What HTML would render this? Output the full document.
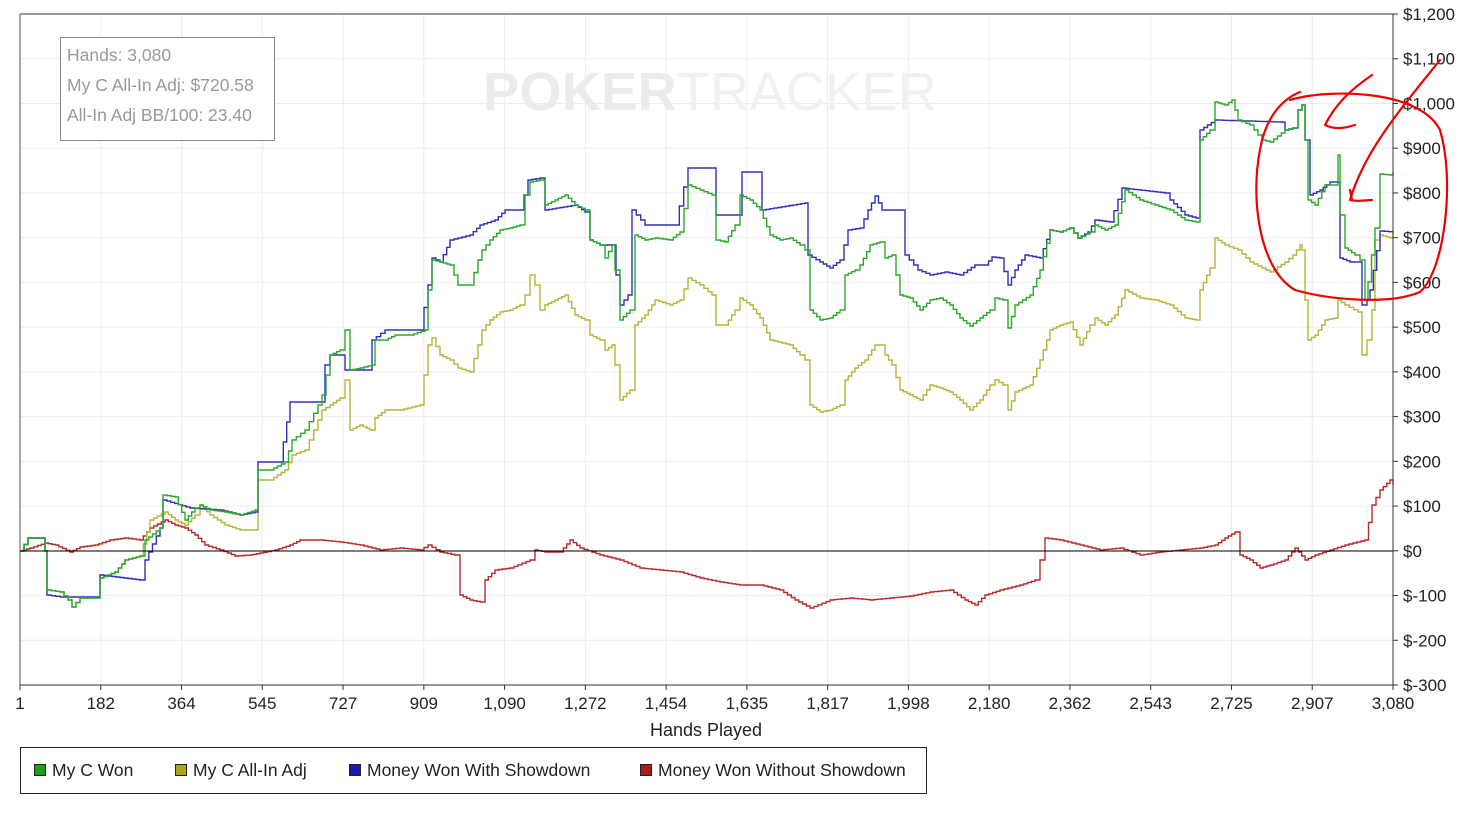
<!DOCTYPE html>
<html><head><meta charset="utf-8"><style>
body{margin:0;background:#fff;width:1480px;height:817px;overflow:hidden;font-family:"Liberation Sans",sans-serif}
</style></head><body>
<svg width="1480" height="817" viewBox="0 0 1480 817" xmlns="http://www.w3.org/2000/svg" font-family="Liberation Sans, sans-serif">
<rect width="1480" height="817" fill="#fff"/>
<g stroke="#ececec" stroke-width="1" id="grid"></g>
<text x="483" y="110" font-size="54" font-weight="bold" fill="#ebebeb" textLength="454" lengthAdjust="spacingAndGlyphs">POKER<tspan font-weight="normal" fill="#f0f0f0">TRACKER</tspan></text>
<g id="lines" fill="none" stroke-width="1.4"></g>
<line x1="20" y1="551" x2="1393" y2="551" stroke="#000" stroke-width="1"/>
<line x1="20" y1="14" x2="20" y2="685" stroke="#555"/>
<line x1="1393" y1="14" x2="1393" y2="685" stroke="#333"/>
<line x1="20" y1="685" x2="1393" y2="685" stroke="#333"/>
<line x1="20" y1="14" x2="1393" y2="14" stroke="#333"/>
<g id="ticks" font-size="17" fill="#222"></g>
<text x="706" y="736" font-size="18" text-anchor="middle" fill="#222">Hands Played</text>
<rect x="60.5" y="37.5" width="214" height="103" fill="#fff" stroke="#888"/>
<text font-size="17.5" fill="#999"><tspan x="67" y="61">Hands: 3,080</tspan><tspan x="67" y="91">My C All-In Adj: $720.58</tspan><tspan x="67" y="121">All-In Adj BB/100: 23.40</tspan></text>
<rect x="20.5" y="747.5" width="906" height="46" fill="#fff" stroke="#222"/>
<g font-size="17.5" fill="#222">
<rect x="34.5" y="764.5" width="11" height="11" fill="#1aa11a" stroke="#222"/><text x="52" y="776">My C Won</text>
<rect x="175.5" y="764.5" width="11" height="11" fill="#a8a81a" stroke="#222"/><text x="193" y="776">My C All-In Adj</text>
<rect x="349.5" y="764.5" width="11" height="11" fill="#1a1aa8" stroke="#222"/><text x="367" y="776">Money Won With Showdown</text>
<rect x="640.5" y="764.5" width="11" height="11" fill="#b01a1a" stroke="#222"/><text x="658" y="776">Money Won Without Showdown</text>
</g>
<g fill="none" stroke="#e00" stroke-width="2.2" stroke-linecap="round">
<path d="M1290,100 C1330,88 1420,90 1440,130 C1455,180 1445,270 1420,292 C1390,305 1330,300 1295,290 C1260,270 1250,200 1260,150 C1265,120 1280,100 1300,92"/>
<path d="M1372,75 C1350,90 1335,105 1325,125 M1325,125 C1335,130 1345,128 1355,125"/>
<path d="M1440,60 C1400,110 1365,150 1350,200 M1350,200 C1360,202 1366,200 1372,200 M1350,190 L1352,200"/>
</g>
</svg>
<script>
const ns="http://www.w3.org/2000/svg";
function el(t,a,p){const e=document.createElementNS(ns,t);for(const k in a)e.setAttribute(k,a[k]);p.appendChild(e);return e;}
const g=document.getElementById('grid'),tk=document.getElementById('ticks'),ln=document.getElementById('lines');
const xl=["1","182","364","545","727","909","1,090","1,272","1,454","1,635","1,817","1,998","2,180","2,362","2,543","2,725","2,907","3,080"];
for(let i=0;i<18;i++){const x=20+i*1373/17;el('line',{x1:x,y1:14,x2:x,y2:685},g);el('line',{x1:x,y1:685,x2:x,y2:690,stroke:'#333'},tk);const t=el('text',{x:x,y:709,'text-anchor':'middle'},tk);t.textContent=xl[i];}
const yl=["$1,200","$1,100","$1,000","$900","$800","$700","$600","$500","$400","$300","$200","$100","$0","$-100","$-200","$-300"];
for(let i=0;i<16;i++){const y=14+i*671/15;el('line',{x1:20,y1:y,x2:1393,y2:y},g);el('line',{x1:1393,y1:y,x2:1398,y2:y,stroke:'#333'},tk);const t=el('text',{x:1403,y:y+6},tk);t.textContent=yl[i];}
const S={
red:"20,551 30,548 45,543 55,545 70,552 80,547 95,545 110,540 125,538 140,540 150,528 165,520 175,525 185,528 195,535 205,545 220,550 235,556 250,555 260,553 275,550 290,545 300,540 320,540 340,542 360,545 380,550 400,548 420,550 428,545 440,552 455,555 460,595 470,600 480,602 485,580 495,570 510,568 530,560 535,550 545,552 560,552 570,540 580,548 600,555 620,560 640,568 660,570 680,572 700,578 720,582 740,585 760,585 780,590 795,600 810,608 830,600 850,598 870,600 890,598 910,596 930,592 950,590 965,600 975,605 985,595 1000,590 1020,585 1035,580 1040,560 1045,538 1060,540 1080,545 1100,550 1120,548 1140,555 1160,552 1180,550 1200,548 1215,545 1225,538 1235,532 1240,555 1250,560 1260,568 1270,565 1285,560 1295,548 1305,560 1315,555 1330,550 1345,545 1365,540 1372,505 1380,490 1390,480 1393,485",
olive:"20,551 28,538 40,538 45,551 47,590 60,592 68,600 72,607 80,598 95,598 100,578 115,572 125,560 140,556 150,520 165,512 175,520 185,525 195,515 200,505 210,515 225,525 240,530 255,530 258,480 270,480 285,470 292,455 305,450 318,420 322,410 330,405 340,398 345,380 350,430 360,425 370,430 375,418 385,410 400,410 420,405 428,345 432,338 440,355 450,360 458,368 470,372 478,345 482,330 490,320 500,312 510,310 520,305 525,295 530,275 535,285 540,310 545,305 555,300 565,295 575,315 585,320 590,335 600,340 605,350 612,345 615,365 620,400 630,390 635,325 645,315 655,300 670,305 680,300 688,278 700,285 712,295 716,325 725,325 735,310 740,298 750,305 760,318 770,340 790,345 800,355 805,360 810,405 820,412 830,410 840,405 845,380 855,368 865,360 875,345 880,345 885,355 892,365 900,390 910,395 920,400 930,385 940,388 950,392 960,400 970,410 980,400 990,385 995,380 1003,385 1008,410 1015,392 1030,385 1040,360 1050,330 1060,325 1070,322 1080,345 1090,325 1095,318 1105,325 1115,315 1125,290 1140,298 1155,300 1170,305 1185,318 1196,320 1200,290 1210,268 1215,238 1225,245 1238,250 1250,262 1262,268 1270,272 1285,262 1293,255 1300,245 1302,250 1305,300 1308,340 1315,335 1325,320 1335,318 1338,300 1345,305 1358,312 1362,355 1367,340 1372,310 1375,240 1380,235 1390,238 1393,232",
blue:"20,551 28,538 40,538 45,551 47,595 60,597 95,597 100,575 140,580 145,560 160,528 163,500 190,508 220,510 240,515 255,512 258,462 280,462 290,402 320,402 325,365 330,355 345,355 345,370 370,370 372,340 385,330 420,330 428,285 432,258 440,262 450,240 470,235 480,225 495,220 505,210 520,210 528,180 540,178 545,210 575,205 585,212 590,240 600,245 612,245 620,305 628,295 632,210 645,225 675,225 688,168 712,168 716,215 738,215 742,172 758,172 762,210 805,203 808,255 820,262 830,268 840,260 848,230 860,228 868,210 875,196 882,210 900,210 905,255 918,270 930,275 945,272 960,275 975,265 985,265 992,257 1000,258 1008,285 1015,270 1025,255 1040,258 1050,230 1060,232 1070,228 1078,238 1088,232 1095,220 1110,222 1122,188 1165,193 1170,200 1185,215 1196,218 1200,130 1215,120 1280,122 1285,130 1293,128 1298,110 1302,105 1305,140 1310,195 1320,190 1330,182 1338,182 1340,258 1350,262 1360,262 1362,305 1367,300 1370,290 1380,231 1393,232",
green:"20,551 28,538 40,538 45,551 47,590 60,592 68,600 72,607 80,598 95,598 100,578 115,572 125,560 140,556 145,540 160,528 163,495 175,497 185,520 195,508 200,505 210,510 225,512 240,515 255,510 258,470 270,470 285,462 292,440 305,430 318,405 322,395 330,355 340,350 345,330 350,370 360,368 372,365 375,340 385,340 395,335 410,335 425,330 428,290 432,260 440,262 450,265 458,285 470,285 478,260 482,250 490,240 500,230 510,228 520,225 525,195 530,182 540,180 545,205 555,200 565,195 575,205 585,210 590,240 600,245 605,258 612,245 615,270 620,320 630,310 635,235 645,240 655,238 670,240 680,232 688,185 700,190 712,195 716,240 725,242 735,225 740,195 750,200 760,210 770,235 780,240 790,238 800,245 805,250 810,310 820,320 830,318 840,310 845,275 855,270 860,265 870,245 880,242 885,258 892,255 900,295 910,298 920,310 930,300 940,298 950,305 960,318 970,326 980,318 990,310 995,298 1003,300 1008,328 1015,305 1030,295 1040,270 1050,230 1060,232 1070,228 1078,238 1090,232 1095,225 1105,230 1115,225 1125,190 1140,200 1155,205 1170,210 1185,220 1196,222 1200,140 1210,130 1215,102 1225,105 1232,100 1238,120 1250,125 1262,140 1270,142 1285,130 1293,128 1298,110 1302,105 1305,140 1308,200 1315,205 1325,185 1335,185 1338,155 1340,215 1345,248 1355,255 1360,260 1365,300 1368,282 1375,228 1380,174 1390,175 1393,172"};
const C={red:'#b82a2a',olive:'#b5b53a',blue:'#3030b8',green:'#2aaa2a'};
function step(s){const p=s.split(' ').map(q=>q.split(',').map(Number));let o=[p[0]];for(let i=1;i<p.length;i++){const [x0,y0]=p[i-1],[x1,y1]=p[i];const n=Math.max(1,Math.round((x1-x0)/4));for(let j=1;j<=n;j++){const x=x0+(x1-x0)*j/n,y=y0+(y1-y0)*j/n;const px=o[o.length-1];o.push([x,px[1]]);o.push([x,y]);}}return o.map(a=>a[0].toFixed(1)+','+a[1].toFixed(1)).join(' ');}
for(const k of ['red','olive','blue','green'])el('polyline',{points:step(S[k]),stroke:C[k]},ln);
</script>
</body></html>
